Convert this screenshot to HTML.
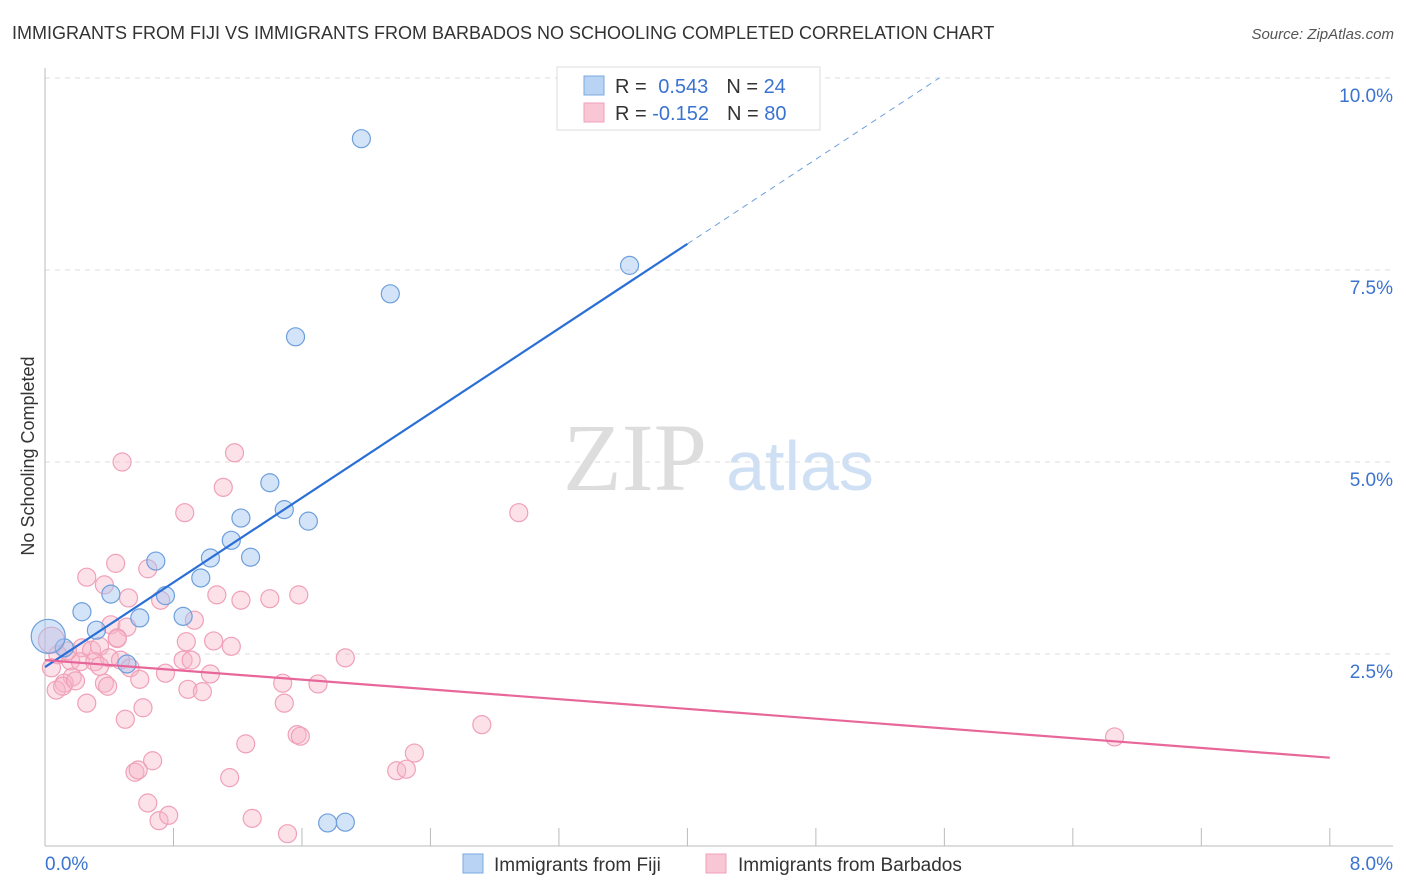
<!DOCTYPE html>
<html><head><meta charset="utf-8"><style>
body{margin:0;background:#fff;font-family:"Liberation Sans",sans-serif;}
svg{display:block}
</style></head><body>
<svg id="chart" width="1406" height="892" xmlns="http://www.w3.org/2000/svg">
<text x="12" y="39" font-size="18" fill="#333">IMMIGRANTS FROM FIJI VS IMMIGRANTS FROM BARBADOS NO SCHOOLING COMPLETED CORRELATION CHART</text>
<text x="1394" y="39" font-size="15" fill="#555" text-anchor="end" font-style="italic">Source: ZipAtlas.com</text>
<text x="635" y="490" font-size="96" fill="#ddd" font-family="Liberation Serif,serif" text-anchor="middle">ZIP</text>
<text x="800" y="490" font-size="70" fill="#cfe0f5" text-anchor="middle">atlas</text>
<text transform="translate(34,456) rotate(-90)" font-size="18" fill="#333" text-anchor="middle">No Schooling Completed</text>
<g id="grid"></g><g id="pts"></g><g id="lines"></g>
<g>
<rect x="557" y="67" width="263" height="63" fill="#fff" stroke="#ddd"/>
<rect x="584" y="76" width="20" height="19" fill="#b9d3f5" stroke="#7aa8e0"/>
<rect x="584" y="103" width="20" height="19" fill="#f9c6d5" stroke="#f0a0b8"/>
<text x="615" y="93" font-size="20" fill="#333">R = <tspan fill="#3a73d0" dx="6">0.543</tspan><tspan fill="#333" dx="18">N = </tspan><tspan fill="#3a73d0">24</tspan></text>
<text x="615" y="120" font-size="20" fill="#333">R = <tspan fill="#3a73d0">-0.152</tspan><tspan fill="#333" dx="18">N = </tspan><tspan fill="#3a73d0">80</tspan></text>
</g>
<g>
<rect x="463" y="854" width="20" height="19" fill="#b9d3f5" stroke="#7aa8e0"/>
<text x="494" y="871" font-size="19" fill="#333">Immigrants from Fiji</text>
<rect x="706" y="854" width="20" height="19" fill="#f9c6d5" stroke="#f0a0b8"/>
<text x="738" y="871" font-size="19" fill="#333">Immigrants from Barbados</text>
</g>
</svg>
<script>
const xTicks=[0,8];
const yTicks=[2.5,5.0,7.5,10.0];
const fijiX=[1.97,3.64,2.15,1.56,1.40,1.22,1.49,1.64,1.16,1.03,1.28,0.69,0.97,0.41,0.75,0.23,0.59,0.86,0.32,0.12,0.51,0.02,1.76,1.87];
const fijiY=[9.21,7.56,7.19,6.63,4.73,4.27,4.38,4.23,3.98,3.75,3.76,3.71,3.49,3.28,3.26,3.05,2.97,2.99,2.81,2.58,2.37,2.73,0.30,0.31];
const barbX=[0.48,1.18,1.11,0.87,2.95,0.44,0.64,0.26,0.37,0.72,0.52,1.07,1.22,1.40,1.58,0.93,0.41,0.51,0.45,0.88,1.05,1.16,0.23,0.29,0.34,0.08,0.16,0.22,0.31,0.40,0.47,0.86,0.91,1.87,0.53,0.34,0.75,1.03,0.04,0.17,0.12,0.37,0.59,1.48,1.70,0.07,0.11,0.39,0.89,0.98,0.26,0.61,1.49,0.50,2.72,1.25,1.57,1.59,0.67,2.30,0.56,0.58,2.19,2.25,1.15,0.64,0.71,0.77,1.29,1.51,6.66,0.04,0.45,0.14,0.19];
const barbY=[5.0,5.12,4.67,4.34,4.34,3.68,3.61,3.50,3.40,3.20,3.23,3.27,3.20,3.22,3.27,2.94,2.88,2.85,2.71,2.66,2.67,2.60,2.58,2.55,2.60,2.49,2.41,2.40,2.40,2.45,2.42,2.42,2.42,2.45,2.32,2.34,2.25,2.24,2.32,2.20,2.12,2.12,2.17,2.12,2.11,2.03,2.08,2.08,2.04,2.01,1.86,1.80,1.86,1.65,1.58,1.33,1.45,1.43,1.11,1.21,0.96,0.99,0.98,1.00,0.89,0.56,0.33,0.40,0.36,0.16,1.42,2.68,2.70,2.54,2.15];
const fijiTrend=[2.33,7.84];
const barbTrend=[2.42,1.15];
const NS="http://www.w3.org/2000/svg";
const sx=v=>45+v*160.6, sy=v=>846-v*76.8;
function mk(tag,attrs,parent){const e=document.createElementNS(NS,tag);for(const k in attrs)e.setAttribute(k,attrs[k]);parent.appendChild(e);return e;}
const grid=document.getElementById('grid'),pts=document.getElementById('pts'),lines=document.getElementById('lines');
yTicks.forEach(t=>{
 const l=mk('line',{x1:45,x2:1393,y1:sy(t),y2:sy(t),stroke:'#ddd','stroke-dasharray':'5,5'},grid);
 
 
 const tx=mk('text',{x:1393,y:sy(t)+24,'font-size':19,fill:'#3a73d0','text-anchor':'end'},grid);
 tx.textContent=t.toFixed(1)+'%';
 
 
});
mk('line',{x1:45,x2:45,y1:68,y2:846,stroke:'#bbb'},grid);
mk('line',{x1:45,x2:1393,y1:846,y2:846,stroke:'#bbb'},grid);
for(let i=1;i<=10;i++){const x=sx(i*0.8);const t=mk('line',{x1:x,x2:x,y1:828,y2:846,stroke:'#bbb'},grid);
 
 }
xTicks.forEach((t,i)=>{const tx=mk('text',{x:i==0?45:1393,y:870,'font-size':19,fill:'#3a73d0','text-anchor':i==0?'start':'end'},grid);
 tx.textContent=t.toFixed(1)+'%';
 
 });
barbX.forEach((x,i)=>{const c=mk('circle',{cx:sx(x),cy:sy(barbY[i]),r:i==71?13:9,fill:'rgba(248,180,200,0.4)',stroke:'#f0a0b8','stroke-width':1.2},pts);
 
 });
fijiX.forEach((x,i)=>{const c=mk('circle',{cx:sx(x),cy:sy(fijiY[i]),r:i==21?17:9,fill:'rgba(160,196,240,0.45)',stroke:'#6d9fdc','stroke-width':1.2},pts);
 
 });
const fs=(fijiTrend[1]-fijiTrend[0])/4;
const l1=mk('line',{x1:sx(0),y1:sy(fijiTrend[0]),x2:sx(4),y2:sy(fijiTrend[1]),stroke:'#2a6fd6','stroke-width':2.2},lines);


const l2=mk('line',{x1:sx(4),y1:sy(fijiTrend[1]),x2:sx(5.57),y2:sy(fijiTrend[0]+fs*5.57),stroke:'#6d9fdc','stroke-width':1,'stroke-dasharray':'6,5'},lines);


const l3=mk('line',{x1:sx(0),y1:sy(barbTrend[0]),x2:sx(8),y2:sy(barbTrend[1]),stroke:'#e8679a','stroke-width':2.2},lines);


</script>
</body></html>
